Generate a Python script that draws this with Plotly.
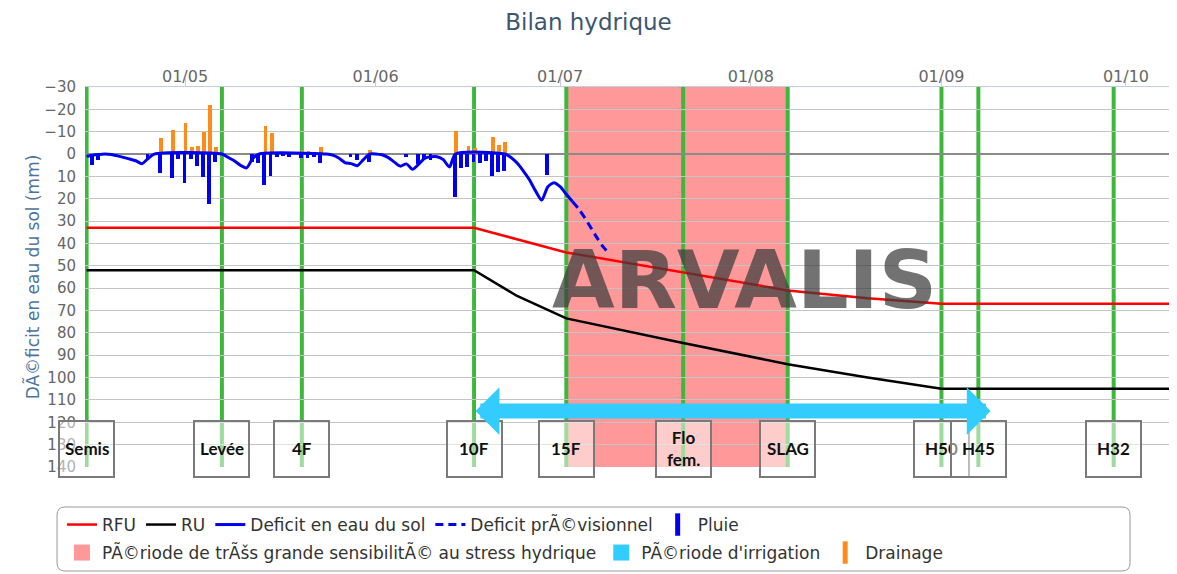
import plotly.graph_objects as go

# ---------------- data ----------------
rfu_dates = ["2016-04-15", "2016-06-17", "2016-07-02", "2016-07-24", "2016-08-07",
             "2016-08-20", "2016-09-01", "2016-10-10"]
rfu_vals = [33, 33, 44, 54.5, 61, 64.5, 67, 67]

ru_dates = ["2016-04-15", "2016-06-17", "2016-06-24", "2016-07-02", "2016-07-20",
            "2016-08-07", "2016-08-20", "2016-09-01", "2016-10-10"]
ru_vals = [52, 52, 63.5, 73.5, 84, 94, 100, 105, 105]

deficit_dates = ["2016-04-15", "2016-04-16", "2016-04-17", "2016-04-18", "2016-04-19",
                 "2016-04-20", "2016-04-21", "2016-04-22", "2016-04-23", "2016-04-24",
                 "2016-04-25", "2016-04-26", "2016-05-07", "2016-05-08", "2016-05-09",
                 "2016-05-10", "2016-05-11", "2016-05-12", "2016-05-13", "2016-05-24",
                 "2016-05-25", "2016-05-26", "2016-05-27", "2016-05-28", "2016-05-29",
                 "2016-05-30", "2016-05-31", "2016-06-02", "2016-06-03", "2016-06-04",
                 "2016-06-05", "2016-06-06", "2016-06-07", "2016-06-08", "2016-06-09",
                 "2016-06-10", "2016-06-11", "2016-06-12", "2016-06-13", "2016-06-14",
                 "2016-06-22", "2016-06-23", "2016-06-24", "2016-06-25", "2016-06-26",
                 "2016-06-27", "2016-06-28", "2016-06-29", "2016-06-30", "2016-07-01",
                 "2016-07-02", "2016-07-03"]
deficit_vals = [1.0, 0.5, 0.2, 0, 0.2,
                0.8, 1.5, 2.2, 3.0, 4.3,
                2.0, 0, 0, 1.5, 3.0,
                5.0, 6.2, 2.0, 0, 0,
                0.5, 1.8, 3.8, 4.3, 5.2,
                2.5, 0, 0.3, 1.5, 3.5,
                5.4, 4.4, 6.8, 4.5, 1.8,
                1.2, 1.2, 2.5, 5.8, 0,
                0, 1.5, 4.0, 7.5, 11.5,
                16.5, 20.6, 14.6, 12.8, 14.6,
                18.0, 21.2]

forecast_dates = ["2016-07-03", "2016-07-04", "2016-07-05", "2016-07-06", "2016-07-07",
                  "2016-07-08", "2016-07-09"]
forecast_vals = [21.2, 24.5, 28.5, 33, 37.5, 41.5, 44.5]

pluie_dates = ["2016-04-16", "2016-04-17", "2016-04-25", "2016-04-27", "2016-04-29",
               "2016-04-30", "2016-05-01", "2016-05-02", "2016-05-03", "2016-05-04",
               "2016-05-05", "2016-05-06", "2016-05-12", "2016-05-13", "2016-05-14",
               "2016-05-15", "2016-05-16", "2016-05-17", "2016-05-18", "2016-05-20",
               "2016-05-21", "2016-05-22", "2016-05-23", "2016-05-28", "2016-05-29",
               "2016-05-31", "2016-06-06", "2016-06-08", "2016-06-09", "2016-06-10",
               "2016-06-14", "2016-06-15", "2016-06-16", "2016-06-17", "2016-06-18",
               "2016-06-19", "2016-06-20", "2016-06-21", "2016-06-22", "2016-06-29"]
pluie_vals = [5, 2.5, 2, 8.4, 10.9,
              2.2, 12.8, 2.2, 5.4, 10.1,
              22.4, 3.4, 3.4, 4, 14,
              10, 1.2, 1, 1.2, 1.8,
              1.8, 1.5, 4, 1.5, 2.7,
              3.5, 1.2, 4.5, 2, 2.5,
              19.4, 6.4, 5.8, 3.6, 4,
              3, 10, 7.9, 7.6, 9.4]

drain_dates = ["2016-04-27", "2016-04-29", "2016-04-30", "2016-05-01", "2016-05-02",
               "2016-05-03", "2016-05-04", "2016-05-05", "2016-05-06", "2016-05-14",
               "2016-05-15", "2016-05-20", "2016-05-21", "2016-05-23", "2016-05-31",
               "2016-06-14", "2016-06-16", "2016-06-17", "2016-06-20", "2016-06-21",
               "2016-06-22"]
drain_vals = [-7, -10.7, -1.5, -13.7, -3,
              -3.7, -9.7, -22, -3, -12.5,
              -9.3, -1.8, -1.5, -3, -1.8,
              -10.4, -3.8, -2.7, -7.8, -4,
              -5.5]

stage_names = ["Semis", "Levée", "4F", "10F", "15F", "Flo<br>fem.", "SLAG", "H50", "H45", "H32"]
stage_dates = ["2016-04-15", "2016-05-07", "2016-05-20", "2016-06-17", "2016-07-02",
               "2016-07-21", "2016-08-07", "2016-09-01", "2016-09-07", "2016-09-29"]

sens_period = ["2016-07-02", "2016-08-07"]
irrig_period = ["2016-06-17", "2016-09-09"]
irrig_level = 115

x_tick_start = "2016-05-01"
x_range = ["2016-04-14 17:45", "2016-10-09 07:10"]
y_range = [140, -30]

# ---------------- styles ----------------
RED = "#FF0000"
BLACK = "#000000"
BLUE = "#0000F0"
ORANGE = "#FF8C1A"
GREEN = "#3DB83D"
PINK = "rgba(255,0,0,0.40)"
PINK_LEG = "#FF9999"
CYAN = "#33CCFF"
DAY = 86400000
W, H = 1169, 566          # page body has an 8px margin; figure fills the rest
LEG_FONT = dict(family="DejaVu Sans", size=17, color="#333333")

fig = go.Figure()

fig.add_trace(go.Bar(x=pluie_dates, y=pluie_vals, name="Pluie", marker_color=BLUE,
                     marker_line_width=0, width=0.62 * DAY, offset=-0.40 * DAY,
                     showlegend=False))
fig.add_trace(go.Bar(x=drain_dates, y=drain_vals, name="Drainage", marker_color=ORANGE,
                     marker_line_width=0, width=0.62 * DAY, offset=-0.22 * DAY,
                     showlegend=False))

fig.add_trace(go.Scatter(x=rfu_dates, y=rfu_vals, name="RFU", mode="lines",
                         line=dict(color=RED, width=2.5), legend="legend", legendrank=1))
fig.add_trace(go.Scatter(x=ru_dates, y=ru_vals, name="RU", mode="lines",
                         line=dict(color=BLACK, width=2.5), legend="legend", legendrank=2))
fig.add_trace(go.Scatter(x=deficit_dates, y=deficit_vals, name="Deficit en eau du sol",
                         mode="lines", line=dict(color=BLUE, width=3, shape="spline",
                                                 smoothing=0.7),
                         legend="legend", legendrank=3))
fig.add_trace(go.Scatter(x=forecast_dates, y=forecast_vals, name="Deficit prÃ©visionnel",
                         mode="lines", line=dict(color=BLUE, width=3, dash="8px,5px",
                                                 shape="spline", smoothing=0.7),
                         legend="legend", legendrank=4))
# legend-only entries
fig.add_trace(go.Scatter(x=[None], y=[None], name="Pluie", mode="markers",
                         marker=dict(symbol="line-ns", size=16,
                                     line=dict(color=BLUE, width=5)),
                         legend="legend", legendrank=5))
fig.add_trace(go.Scatter(x=[None], y=[None],
                         name="PÃ©riode de trÃšs grande sensibilitÃ© au stress hydrique",
                         mode="markers", marker=dict(symbol="square", size=16, color=PINK_LEG),
                         legend="legend2", legendrank=1))
fig.add_trace(go.Scatter(x=[None], y=[None], name="PÃ©riode d'irrigation",
                         mode="markers", marker=dict(symbol="square", size=16, color=CYAN),
                         legend="legend2", legendrank=2))
fig.add_trace(go.Scatter(x=[None], y=[None], name="Drainage", mode="markers",
                         marker=dict(symbol="line-ns", size=16,
                                     line=dict(color=ORANGE, width=5)),
                         legend="legend2", legendrank=3))

# sensitivity period band
fig.add_shape(type="rect", xref="x", yref="paper", x0=sens_period[0], x1=sens_period[1],
              y0=0, y1=1, fillcolor=PINK, line_width=0, layer="between")
# stage lines
for d in stage_dates:
    fig.add_shape(type="line", xref="x", yref="paper", x0=d, x1=d, y0=0, y1=1,
                  line=dict(color=GREEN, width=4), layer="between")

# legend frame (rounded rectangle, pixel sized)
def rounded(w, h, r):
    return (f"M {r},0 L {w - r},0 Q {w},0 {w},{r} L {w},{h - r} Q {w},{h} {w - r},{h} "
            f"L {r},{h} Q 0,{h} 0,{h - r} L 0,{r} Q 0,0 {r},0 Z")

fig.add_shape(type="path", xref="paper", yref="paper", xsizemode="pixel", ysizemode="pixel",
              xanchor=-0.0256, yanchor=-0.2737, path=rounded(1073, 64, 8),
              line=dict(color="#999999", width=1), fillcolor="rgba(0,0,0,0)", layer="above")

annotations = []
# watermark
annotations.append(dict(text="ARVALIS", xref="paper", yref="paper", x=0.604, y=0.492,
                        xanchor="center", yanchor="middle", showarrow=False,
                        font=dict(family="DejaVu Sans", size=81,
                                  color="rgba(60,60,60,0.72)", weight="bold")))
# stage boxes and labels
BOX_Y = 0.0474
for name, d in zip(stage_names, stage_dates):
    annotations.append(dict(text=" ", x=d, xref="x", y=BOX_Y, yref="paper",
                            xanchor="center", yanchor="middle",
                            showarrow=False, width=53, height=54, borderpad=0,
                            bgcolor="rgba(255,255,255,0.5)", bordercolor="#7A7A7A",
                            borderwidth=2))
    annotations.append(dict(text=name, x=d, xref="x", y=BOX_Y, yref="paper",
                            xanchor="center", yanchor="middle", showarrow=False,
                            align="center",
                            font=dict(family="Lato", size=17, color="#111111",
                                      weight="bold")))
# irrigation arrow
annotations.append(dict(text="", x=irrig_period[1], y=irrig_level, xref="x", yref="y",
                        ax=irrig_period[0], ay=irrig_level, axref="x", ayref="y",
                        showarrow=True, arrowhead=1, startarrowhead=1, arrowside="end+start",
                        arrowsize=0.53, startarrowsize=0.53, arrowwidth=15,
                        arrowcolor=CYAN, standoff=0, startstandoff=0))

fig.update_layout(
    width=W, height=H,
    margin=dict(l=77, r=0, t=79, b=107),
    paper_bgcolor="white", plot_bgcolor="white",
    title=dict(text="Bilan hydrique", x=0.5 * 1177 / W - 8 / W, xref="container",
               xanchor="center", y=1 - 14 / H, yref="container", yanchor="middle",
               font=dict(family="DejaVu Sans", size=23, color="#3E576F")),
    barmode="overlay", bargap=0,
    annotations=annotations,
    legend=dict(orientation="h", xref="container", yref="container",
                x=54 / W, y=1 - 517 / H, xanchor="left", yanchor="middle",
                font=LEG_FONT, bgcolor="rgba(0,0,0,0)", itemwidth=30),
    legend2=dict(orientation="h", xref="container", yref="container",
                 x=54 / W, y=1 - 545 / H, xanchor="left", yanchor="middle",
                 font=LEG_FONT, bgcolor="rgba(0,0,0,0)", itemwidth=30),
    xaxis=dict(type="date", range=x_range, side="top", tickformat="%d/%m", dtick="M1",
               tick0=x_tick_start, showgrid=False, zeroline=False, showline=True,
               linecolor="#C0D0E0", linewidth=1, ticks="outside", ticklen=7,
               tickcolor="#C0D0E0", ticklabelstandoff=-9,
               tickfont=dict(family="DejaVu Sans", size=16, color="#666666")),
    yaxis=dict(range=y_range, dtick=10, tick0=0, showgrid=True, gridcolor="#C4C4C4",
               gridwidth=1, zeroline=True, zerolinecolor="#8A8A8A", zerolinewidth=1.5,
               showline=False, ticks="", ticklabelstandoff=8,
               tickfont=dict(family="DejaVu Sans", size=15, color="#666666"),
               title=dict(text="DÃ©ficit en eau du sol (mm)", standoff=0,
                          font=dict(family="DejaVu Sans", size=17, color="#4D759E"))),
)

fig.write_html("out.html")
